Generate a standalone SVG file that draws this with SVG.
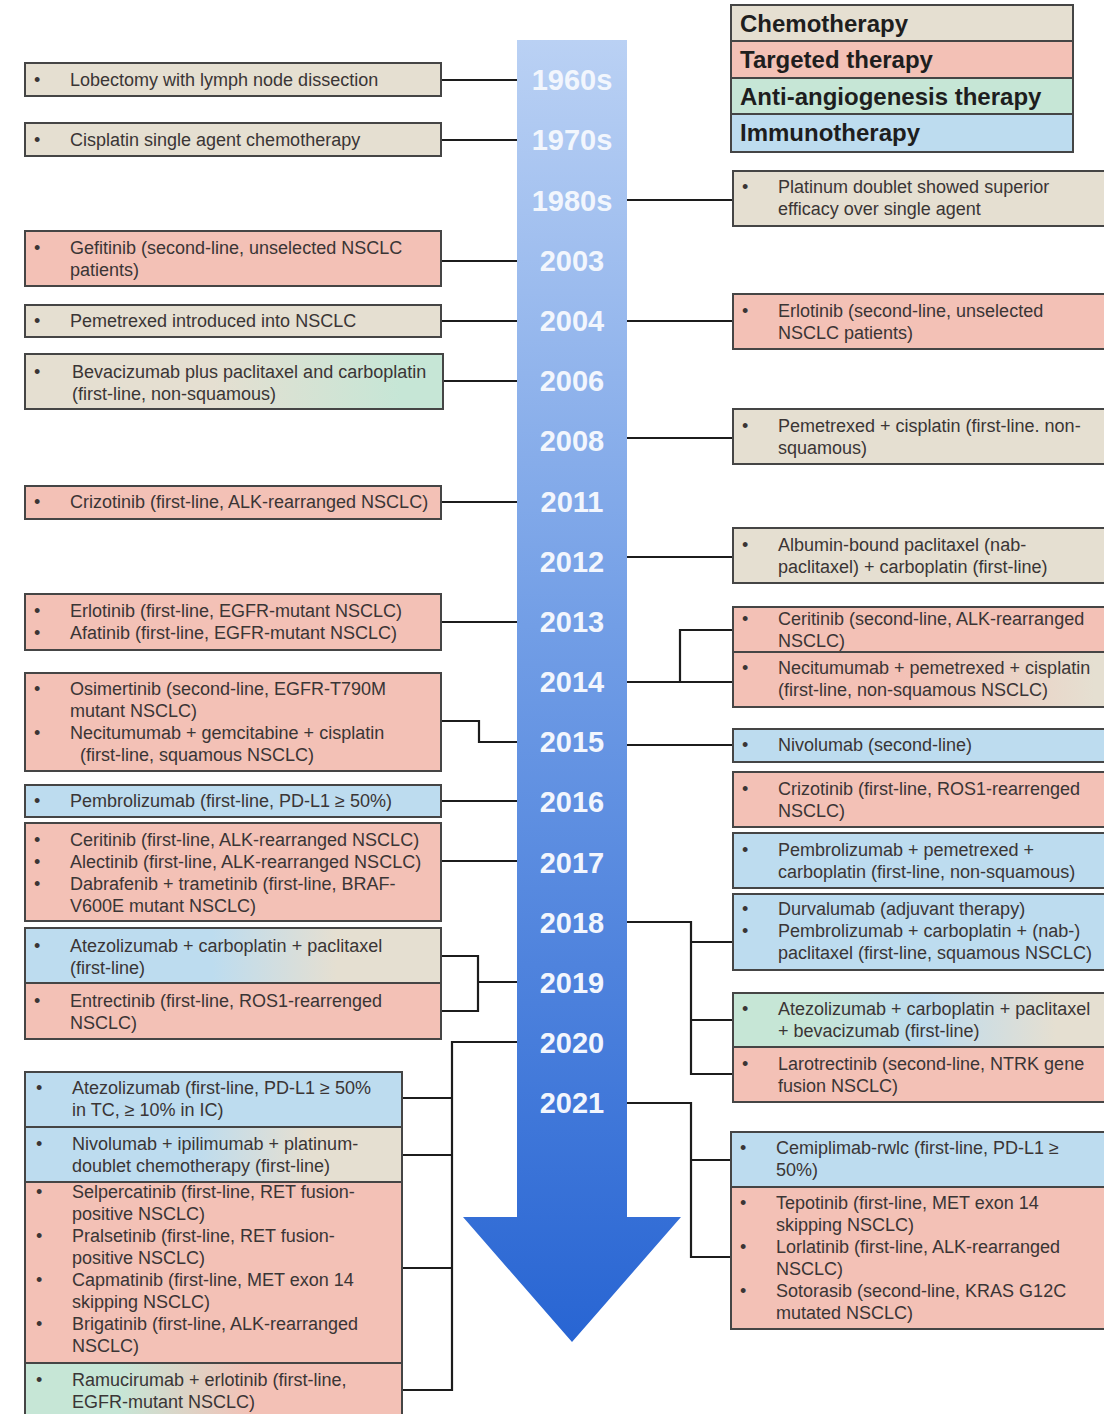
<svg xmlns="http://www.w3.org/2000/svg" width="1104" height="1414" viewBox="0 0 1104 1414">
<defs>
<style>
.t{font-family:"Liberation Sans",Arial,sans-serif;font-size:18px;fill:#3a3535}
.yr{font-family:"Liberation Sans",Arial,sans-serif;font-size:29px;font-weight:bold;fill:#f2f6fd;text-anchor:middle}
.lg{font-family:"Liberation Sans",Arial,sans-serif;font-size:24px;font-weight:bold;fill:#1e1e1e}
.box{stroke:#454545;stroke-width:2}
.ch{fill:#e5dfd1}.tg{fill:#f3c1b6}.aa{fill:#c6e6d6}.im{fill:#bddcef}
.cn{fill:none;stroke:#1c1c1c;stroke-width:2.2}
</style>
<linearGradient id="arrowG" gradientUnits="userSpaceOnUse" x1="0" y1="40" x2="0" y2="1342">
<stop offset="0" stop-color="#bad1f4"/><stop offset="0.45" stop-color="#729ee6"/><stop offset="1" stop-color="#2865d3"/>
</linearGradient>
<linearGradient id="chAa" x1="0" y1="0" x2="1" y2="0"><stop offset="0.45" stop-color="#e5dfd1"/><stop offset="0.9" stop-color="#c6e6d6"/></linearGradient>
<linearGradient id="imCh" x1="0" y1="0" x2="1" y2="0"><stop offset="0.45" stop-color="#bddcef"/><stop offset="0.75" stop-color="#e5dfd1"/></linearGradient>
<linearGradient id="tgCh" x1="0" y1="0" x2="1" y2="0"><stop offset="0.45" stop-color="#f3c1b6"/><stop offset="0.95" stop-color="#e5dfd1"/></linearGradient>
<linearGradient id="aaTg" x1="0" y1="0" x2="1" y2="0"><stop offset="0.25" stop-color="#c6e6d6"/><stop offset="0.6" stop-color="#f3c1b6"/></linearGradient>
<linearGradient id="aaImCh" x1="0" y1="0" x2="1" y2="0"><stop offset="0.2" stop-color="#c6e6d6"/><stop offset="0.5" stop-color="#bddcef"/><stop offset="0.85" stop-color="#e5dfd1"/></linearGradient>
</defs>
<rect width="1104" height="1414" fill="#ffffff"/>

<g id="timeline-arrow">
<path d="M517,40 H627 V1217 H681 L572,1342 L463,1217 H517 Z" fill="url(#arrowG)"/>
<text class="yr" x="572" y="90">1960s</text>
<text class="yr" x="572" y="150">1970s</text>
<text class="yr" x="572" y="211">1980s</text>
<text class="yr" x="572" y="271">2003</text>
<text class="yr" x="572" y="331">2004</text>
<text class="yr" x="572" y="391">2006</text>
<text class="yr" x="572" y="451">2008</text>
<text class="yr" x="572" y="512">2011</text>
<text class="yr" x="572" y="572">2012</text>
<text class="yr" x="572" y="632">2013</text>
<text class="yr" x="572" y="692">2014</text>
<text class="yr" x="572" y="752">2015</text>
<text class="yr" x="572" y="812">2016</text>
<text class="yr" x="572" y="873">2017</text>
<text class="yr" x="572" y="933">2018</text>
<text class="yr" x="572" y="993">2019</text>
<text class="yr" x="572" y="1053">2020</text>
<text class="yr" x="572" y="1113">2021</text>
</g>

<g id="legend">
<rect class="box ch" x="731" y="5" width="342" height="36"/>
<rect class="box tg" x="731" y="41" width="342" height="37"/>
<rect class="box aa" x="731" y="78" width="342" height="36"/>
<rect class="box im" x="731" y="114" width="342" height="38"/>
<text class="lg" x="740" y="32">Chemotherapy</text>
<text class="lg" x="740" y="68">Targeted therapy</text>
<text class="lg" x="740" y="105">Anti-angiogenesis therapy</text>
<text class="lg" x="740" y="141">Immunotherapy</text>
</g>

<g id="connectors">
<path class="cn" d="M441,80 H517"/>
<path class="cn" d="M441,140 H517"/>
<path class="cn" d="M627,200 H733"/>
<path class="cn" d="M441,261 H517"/>
<path class="cn" d="M441,321 H517"/>
<path class="cn" d="M627,321 H733"/>
<path class="cn" d="M443,381 H517"/>
<path class="cn" d="M627,438 H733"/>
<path class="cn" d="M441,502 H517"/>
<path class="cn" d="M627,557 H733"/>
<path class="cn" d="M441,622 H517"/>
<path class="cn" d="M627,682 H733 M680,682 V630 H733"/>
<path class="cn" d="M441,721 H479 V742 H517"/>
<path class="cn" d="M627,745 H733"/>
<path class="cn" d="M441,801 H517"/>
<path class="cn" d="M441,861 H517"/>
<path class="cn" d="M627,922 H691 V1074 H733 M691,942 H733 M691,1020 H733"/>
<path class="cn" d="M441,956 H478 V1011 H441 M478,982 H517"/>
<path class="cn" d="M517,1042 H452 V1390 H402 M452,1098 H402 M452,1155 H402 M452,1268 H402"/>
<path class="cn" d="M627,1103 H691 V1257 H731 M691,1160 H731"/>
</g>

<g id="n-lobectomy">
<rect class="box ch" x="25" y="63" width="416" height="33"/>
<text class="t" x="34" y="86">•</text><text class="t" x="70" y="86">Lobectomy with lymph node dissection</text>
</g>
<g id="n-cisplatin">
<rect class="box ch" x="25" y="123" width="416" height="33"/>
<text class="t" x="34" y="146">•</text><text class="t" x="70" y="146">Cisplatin single agent chemotherapy</text>
</g>
<g id="n-platinum-doublet">
<rect class="box ch" x="733" y="171" width="380" height="55"/>
<text class="t" x="742" y="193">•</text><text class="t" x="778" y="193">Platinum doublet showed superior</text>
<text class="t" x="778" y="215">efficacy over single agent</text>
</g>
<g id="n-gefitinib">
<rect class="box tg" x="25" y="231" width="416" height="55"/>
<text class="t" x="34" y="254">•</text><text class="t" x="70" y="254">Gefitinib (second-line, unselected NSCLC</text>
<text class="t" x="70" y="276">patients)</text>
</g>
<g id="n-pemetrexed">
<rect class="box ch" x="25" y="305" width="416" height="32"/>
<text class="t" x="34" y="327">•</text><text class="t" x="70" y="327">Pemetrexed introduced into NSCLC</text>
</g>
<g id="n-erlotinib-2l">
<rect class="box tg" x="733" y="294" width="380" height="55"/>
<text class="t" x="742" y="317">•</text><text class="t" x="778" y="317">Erlotinib (second-line, unselected</text>
<text class="t" x="778" y="339">NSCLC patients)</text>
</g>
<g id="n-bevacizumab">
<rect class="box" fill="url(#chAa)" x="25" y="354" width="418" height="55"/>
<text class="t" x="34" y="378">•</text><text class="t" x="72" y="378">Bevacizumab plus paclitaxel and carboplatin</text>
<text class="t" x="72" y="400">(first-line, non-squamous)</text>
</g>
<g id="n-pem-cis">
<rect class="box ch" x="733" y="409" width="380" height="55"/>
<text class="t" x="742" y="432">•</text><text class="t" x="778" y="432">Pemetrexed + cisplatin (first-line. non-</text>
<text class="t" x="778" y="454">squamous)</text>
</g>
<g id="n-crizotinib-alk">
<rect class="box tg" x="25" y="486" width="416" height="33"/>
<text class="t" x="34" y="508">•</text><text class="t" x="70" y="508">Crizotinib (first-line, ALK-rearranged NSCLC)</text>
</g>
<g id="n-nab-paclitaxel">
<rect class="box ch" x="733" y="528" width="380" height="55"/>
<text class="t" x="742" y="551">•</text><text class="t" x="778" y="551">Albumin-bound paclitaxel (nab-</text>
<text class="t" x="778" y="573">paclitaxel) + carboplatin (first-line)</text>
</g>
<g id="n-erlotinib-afatinib">
<rect class="box tg" x="25" y="594" width="416" height="56"/>
<text class="t" x="34" y="617">•</text><text class="t" x="70" y="617">Erlotinib (first-line, EGFR-mutant NSCLC)</text>
<text class="t" x="34" y="639">•</text><text class="t" x="70" y="639">Afatinib (first-line, EGFR-mutant NSCLC)</text>
</g>
<g id="n-ceritinib-2l">
<rect class="box tg" x="733" y="607" width="380" height="45"/>
<text class="t" x="742" y="625">•</text><text class="t" x="778" y="625">Ceritinib (second-line, ALK-rearranged</text>
<text class="t" x="778" y="647">NSCLC)</text>
</g>
<g id="n-necitumumab-pem">
<rect class="box" fill="url(#tgCh)" x="733" y="652" width="380" height="55"/>
<text class="t" x="742" y="674">•</text><text class="t" x="778" y="674">Necitumumab + pemetrexed + cisplatin</text>
<text class="t" x="778" y="696">(first-line, non-squamous NSCLC)</text>
</g>
<g id="n-osimertinib">
<rect class="box tg" x="25" y="673" width="416" height="98"/>
<text class="t" x="34" y="695">•</text><text class="t" x="70" y="695">Osimertinib (second-line, EGFR-T790M</text>
<text class="t" x="70" y="717">mutant NSCLC)</text>
<text class="t" x="34" y="739">•</text><text class="t" x="70" y="739">Necitumumab + gemcitabine + cisplatin</text>
<text class="t" x="80" y="761">(first-line, squamous NSCLC)</text>
</g>
<g id="n-nivolumab-2l">
<rect class="box im" x="733" y="729" width="380" height="33"/>
<text class="t" x="742" y="751">•</text><text class="t" x="778" y="751">Nivolumab (second-line)</text>
</g>
<g id="n-crizotinib-ros1">
<rect class="box tg" x="733" y="772" width="380" height="55"/>
<text class="t" x="742" y="795">•</text><text class="t" x="778" y="795">Crizotinib (first-line, ROS1-rearrenged</text>
<text class="t" x="778" y="817">NSCLC)</text>
</g>
<g id="n-pembrolizumab-pdl1">
<rect class="box im" x="25" y="785" width="416" height="32"/>
<text class="t" x="34" y="807">•</text><text class="t" x="70" y="807">Pembrolizumab (first-line, PD-L1 ≥ 50%)</text>
</g>
<g id="n-ceritinib-alectinib">
<rect class="box tg" x="25" y="823" width="416" height="98"/>
<text class="t" x="34" y="846">•</text><text class="t" x="70" y="846">Ceritinib (first-line, ALK-rearranged NSCLC)</text>
<text class="t" x="34" y="868">•</text><text class="t" x="70" y="868">Alectinib (first-line, ALK-rearranged NSCLC)</text>
<text class="t" x="34" y="890">•</text><text class="t" x="70" y="890">Dabrafenib + trametinib (first-line, BRAF-</text>
<text class="t" x="70" y="912">V600E mutant NSCLC)</text>
</g>
<g id="n-pembro-pem-carbo">
<rect class="box im" x="733" y="833" width="380" height="55"/>
<text class="t" x="742" y="856">•</text><text class="t" x="778" y="856">Pembrolizumab + pemetrexed +</text>
<text class="t" x="778" y="878">carboplatin (first-line, non-squamous)</text>
</g>
<g id="n-durvalumab">
<rect class="box im" x="733" y="894" width="380" height="76"/>
<text class="t" x="742" y="915">•</text><text class="t" x="778" y="915">Durvalumab (adjuvant therapy)</text>
<text class="t" x="742" y="937">•</text><text class="t" x="778" y="937">Pembrolizumab + carboplatin + (nab-)</text>
<text class="t" x="778" y="959">paclitaxel (first-line, squamous NSCLC)</text>
</g>
<g id="n-atezo-carbo-pacl">
<rect class="box" fill="url(#imCh)" x="25" y="928" width="416" height="55"/>
<text class="t" x="34" y="952">•</text><text class="t" x="70" y="952">Atezolizumab + carboplatin + paclitaxel</text>
<text class="t" x="70" y="974">(first-line)</text>
</g>
<g id="n-entrectinib">
<rect class="box tg" x="25" y="983" width="416" height="56"/>
<text class="t" x="34" y="1007">•</text><text class="t" x="70" y="1007">Entrectinib (first-line, ROS1-rearrenged</text>
<text class="t" x="70" y="1029">NSCLC)</text>
</g>
<g id="n-atezo-bev">
<rect class="box" fill="url(#aaImCh)" x="733" y="993" width="380" height="54"/>
<text class="t" x="742" y="1015">•</text><text class="t" x="778" y="1015">Atezolizumab + carboplatin + paclitaxel</text>
<text class="t" x="778" y="1037">+ bevacizumab (first-line)</text>
</g>
<g id="n-larotrectinib">
<rect class="box tg" x="733" y="1047" width="380" height="55"/>
<text class="t" x="742" y="1070">•</text><text class="t" x="778" y="1070">Larotrectinib  (second-line, NTRK gene</text>
<text class="t" x="778" y="1092">fusion NSCLC)</text>
</g>
<g id="n-atezolizumab-pdl1">
<rect class="box im" x="25" y="1072" width="377" height="55"/>
<text class="t" x="36" y="1094">•</text><text class="t" x="72" y="1094">Atezolizumab (first-line, PD-L1 ≥ 50%</text>
<text class="t" x="72" y="1116">in TC, ≥ 10% in IC)</text>
</g>
<g id="n-nivo-ipi">
<rect class="box" fill="url(#imCh)" x="25" y="1127" width="377" height="55"/>
<text class="t" x="36" y="1150">•</text><text class="t" x="72" y="1150">Nivolumab + ipilimumab + platinum-</text>
<text class="t" x="72" y="1172">doublet chemotherapy (first-line)</text>
</g>
<g id="n-cemiplimab">
<rect class="box im" x="731" y="1132" width="382" height="55"/>
<text class="t" x="740" y="1154">•</text><text class="t" x="776" y="1154">Cemiplimab-rwlc (first-line, PD-L1 ≥</text>
<text class="t" x="776" y="1176">50%)</text>
</g>
<g id="n-selpercatinib">
<rect class="box tg" x="25" y="1182" width="377" height="181"/>
<text class="t" x="36" y="1198">•</text><text class="t" x="72" y="1198">Selpercatinib (first-line, RET fusion-</text>
<text class="t" x="72" y="1220">positive NSCLC)</text>
<text class="t" x="36" y="1242">•</text><text class="t" x="72" y="1242">Pralsetinib  (first-line, RET fusion-</text>
<text class="t" x="72" y="1264">positive NSCLC)</text>
<text class="t" x="36" y="1286">•</text><text class="t" x="72" y="1286">Capmatinib (first-line, MET exon 14</text>
<text class="t" x="72" y="1308">skipping NSCLC)</text>
<text class="t" x="36" y="1330">•</text><text class="t" x="72" y="1330">Brigatinib (first-line, ALK-rearranged</text>
<text class="t" x="72" y="1352">NSCLC)</text>
</g>
<g id="n-tepotinib">
<rect class="box tg" x="731" y="1187" width="382" height="142"/>
<text class="t" x="740" y="1209">•</text><text class="t" x="776" y="1209">Tepotinib (first-line, MET exon 14</text>
<text class="t" x="776" y="1231">skipping NSCLC)</text>
<text class="t" x="740" y="1253">•</text><text class="t" x="776" y="1253">Lorlatinib (first-line, ALK-rearranged</text>
<text class="t" x="776" y="1275">NSCLC)</text>
<text class="t" x="740" y="1297">•</text><text class="t" x="776" y="1297">Sotorasib (second-line, KRAS G12C</text>
<text class="t" x="776" y="1319">mutated NSCLC)</text>
</g>
<g id="n-ramucirumab">
<rect class="box" fill="url(#aaTg)" x="25" y="1363" width="377" height="58"/>
<text class="t" x="36" y="1386">•</text><text class="t" x="72" y="1386">Ramucirumab + erlotinib (first-line,</text>
<text class="t" x="72" y="1408">EGFR-mutant NSCLC)</text>
</g>
</svg>
